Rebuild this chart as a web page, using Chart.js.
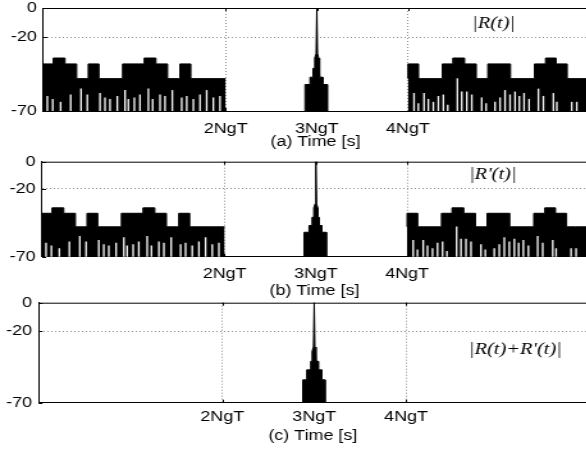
<!DOCTYPE html>
<html>
<head>
<meta charset="utf-8">
<script src="https://cdn.jsdelivr.net/npm/chart.js@4.4.1/dist/chart.umd.min.js"></script>
<style>
  html, body { margin: 0; padding: 0; background: #fff; width: 586px; height: 456px; overflow: hidden; }
  canvas { position: absolute; left: 0; transform-origin: 0 0; transform: scaleX(1.28); }
</style>
</head>
<body>
<canvas id="chartA"></canvas>
<canvas id="chartB"></canvas>
<canvas id="chartC"></canvas>
<script>
// time in units of NgT, magnitude in dB
const xTickVals = [2, 3, 4];
const xTickLabels = ["2NgT", "3NgT", "4NgT"];
const yTickVals = [-70, -20, 0];

// envelope of the signal before 2NgT and after 4NgT (same in (a) and (b))
const blockEdgesL = [0, 0.107, 0.236, 0.364, 0.491, 0.609, 0.868, 1.105, 1.234, 1.362, 1.497, 1.617, 1.855, 2.0];
const blockLevelsL = [-48, -38, -34, -38, -48, -38, -48, -38, -34, -38, -48, -38, -48, -48];
const blockEdgesR = [4.0, 4.117, 4.377, 4.493, 4.622, 4.75, 4.877, 5.126, 5.389, 5.51, 5.627, 5.748, 5.846, 5.97];
const blockLevelsR = [-48, -38, -48, -38, -34, -38, -48, -38, -48, -38, -34, -38, -48, -48];

// thin light dips inside the blocks: position and how high they reach
const dipXL = [0.042, 0.101, 0.188, 0.298, 0.412, 0.481, 0.620, 0.675, 0.730, 0.810, 0.895, 0.931, 0.997,
  1.059, 1.151, 1.198, 1.279, 1.334, 1.414, 1.517, 1.572, 1.645, 1.718, 1.791, 1.864, 1.937];
const dipTopL = [-60, -62, -64, -59, -55, -59, -58, -61, -62, -60, -56, -62, -61,
  -59, -55, -62, -59, -60, -56, -61, -60, -62, -59, -56, -61, -60];
const dipXR = [4.067, 4.114, 4.177, 4.224, 4.279, 4.334, 4.389, 4.437, 4.543, 4.591, 4.646, 4.701, 4.810, 4.858,
  4.956, 5.011, 5.066, 5.121, 5.176, 5.223, 5.275, 5.330, 5.432, 5.487, 5.597, 5.634, 5.798, 5.853];
const dipTopR = [-58, -65, -58, -62, -64, -60, -59, -66, -48, -57, -57, -59, -61, -65,
  -64, -61, -56, -59, -57, -60, -58, -62, -55, -60, -58, -64, -64, -64];

// correlation peak at 3NgT
const peakX = [2.870, 2.870, 2.925, 2.925, 2.958, 2.958, 2.977, 2.977, 2.992, 3.0, 3.008, 3.021, 3.021, 3.035, 3.035, 3.065, 3.065, 3.115, 3.115];
const peakY = [-70, -52, -52, -47, -47, -41, -41, -34, -31, 0, -31, -34, -41, -41, -47, -47, -52, -52, -70];
const peakCX = [2.875, 2.875, 2.919, 2.919, 2.962, 2.962, 2.977, 2.977, 2.992, 3.0, 3.008, 3.020, 3.020, 3.045, 3.045, 3.082, 3.082, 3.118, 3.118];
const peakCY = [-70, -54, -54, -47, -47, -41, -41, -34, -31, 0, -31, -34, -41, -41, -47, -47, -54, -54, -70];

const W = 462;        // logical canvas width, stretched by 1.28 in css
const X_MAX = 5.97;

const toXY = (xs, ys) => xs.map((x, i) => ({ x: x, y: ys[i] }));
const toDips = (xs, tops) => xs.map((x, i) => ({ x: x, y: [-70, tops[i]] }));

const fillLine = (data, stepped) => ({
  type: "line",
  data: data,
  stepped: stepped,
  fill: "start",
  backgroundColor: "#000",
  borderColor: "#000",
  borderWidth: 1,
  pointRadius: 0,
  order: 1,
});

const dipBars = (data) => ({
  type: "bar",
  data: data,
  backgroundColor: "#f4f4f4",
  borderWidth: 0,
  barThickness: 0.7,
  grouped: false,
  order: 0,
});

const framePlugin = {
  id: "frame",
  afterDraw(chart) {
    const { ctx, chartArea: a, scales } = chart;
    const x = scales.x, y = scales.y;
    ctx.save();
    ctx.strokeStyle = "#000";
    ctx.lineWidth = 1;
    ctx.beginPath();
    ctx.moveTo(a.left, a.top + 0.5);
    ctx.lineTo(a.right, a.top + 0.5);
    ctx.stroke();
    // little inward ticks, matlab style
    xTickVals.forEach((v) => {
      const px = Math.round(x.getPixelForValue(v)) + 0.5;
      ctx.beginPath();
      ctx.moveTo(px, a.top);
      ctx.lineTo(px, a.top + 3);
      ctx.stroke();
      ctx.beginPath();
      ctx.moveTo(px, a.bottom);
      ctx.lineTo(px, a.bottom - 3);
      ctx.stroke();
    });
    yTickVals.forEach((v) => {
      const py = Math.round(y.getPixelForValue(v)) + 0.5;
      ctx.beginPath();
      ctx.moveTo(a.left, py);
      ctx.lineTo(a.left + 3, py);
      ctx.stroke();
    });

    const lab = chart.options.plugins.frame;
    ctx.fillStyle = "#000";
    ctx.font = "italic 16px 'Liberation Serif', 'Times New Roman', serif";
    ctx.textAlign = "center";
    ctx.textBaseline = "middle";
    ctx.fillText(lab.text, x.getPixelForValue(lab.x), y.getPixelForValue(lab.y));
    ctx.restore();
  },
};

const noPad = (s) => { s.paddingTop = 0; s.paddingBottom = 0; s.paddingLeft = 0; s.paddingRight = 0; };

function makePanel(id, box, datasets, title, label) {
  const canvas = document.getElementById(id);
  canvas.width = W;
  canvas.height = box.height;
  canvas.style.width = W + "px";
  canvas.style.height = box.height + "px";
  canvas.style.top = box.top + "px";

  const font = { family: "'Liberation Sans', Arial, sans-serif", size: 14, lineHeight: 1 };

  return new Chart(canvas, {
    type: "line",
    data: { datasets: datasets },
    options: {
      responsive: false,
      animation: false,
      events: [],
      layout: { padding: { top: box.plotTop, right: W - box.right, left: 0, bottom: 0 } },
      plugins: {
        legend: { display: false },
        tooltip: { enabled: false },
        frame: label,
      },
      scales: {
        x: {
          type: "linear",
          min: 0,
          max: X_MAX,
          offset: false,
          afterBuildTicks: (s) => { s.ticks = xTickVals.map((v) => ({ value: v })); },
          afterFit: (s) => { s.height = box.height - box.plotBottom; noPad(s); },
          ticks: {
            color: "#000",
            font: font,
            padding: box.tickPad,
            maxRotation: 0,
            autoSkip: false,
            callback: (v) => xTickLabels[xTickVals.indexOf(v)],
          },
          grid: { color: "#8c8c8c", lineWidth: 1, drawTicks: false, offset: false },
          border: { display: true, color: "#000", width: 1, dash: [1, 2] },
          title: {
            display: true,
            text: title,
            color: "#000",
            font: { family: "'Liberation Sans', Arial, sans-serif", size: 14 },
            padding: { top: 0, bottom: box.titlePad },
          },
        },
        y: {
          type: "linear",
          min: -70,
          max: 0,
          afterBuildTicks: (s) => { s.ticks = yTickVals.map((v) => ({ value: v })); },
          afterFit: (s) => { s.width = box.left; noPad(s); },
          ticks: { color: "#000", font: font, padding: 5.2 },
          grid: {
            color: (c) => (c.tick && c.tick.value === -20 ? "#8c8c8c" : "rgba(0,0,0,0)"),
            lineWidth: 1,
            drawTicks: false,
          },
          border: { display: true, color: "#000", width: 1, dash: [1, 2] },
        },
      },
    },
    plugins: [framePlugin],
  });
}

const boxA = { top: 0, height: 156, plotTop: 8, plotBottom: 111, left: 33.98, right: 458.9, tickPad: 11, titlePad: 5 };
const boxB = { top: 154, height: 148, plotTop: 7.7, plotBottom: 102.7, left: 32.97, right: 458.4, tickPad: 10, titlePad: 2.1 };
const boxC = { top: 295, height: 161, plotTop: 7.7, plotBottom: 107.7, left: 30.16, right: 458.6, tickPad: 7, titlePad: 11.3 };

const blockSets = () => [
  dipBars(toDips(dipXL, dipTopL).concat(toDips(dipXR, dipTopR))),
  fillLine(toXY(blockEdgesL, blockLevelsL), "after"),
  fillLine(toXY(blockEdgesR, blockLevelsR), "after"),
  fillLine(toXY(peakX, peakY), false),
];

makePanel("chartA", boxA, blockSets(), "(a) Time [s]", { text: "|R(t)|", x: 4.94, y: -10.9 });
makePanel("chartB", boxB, blockSets(), "(b) Time [s]", { text: "|R'(t)|", x: 4.94, y: -9.8 });
makePanel("chartC", boxC, [fillLine(toXY(peakCX, peakCY), false)], "(c) Time [s]", { text: "|R(t)+R'(t)|", x: 5.19, y: -33.1 });
</script>
</body>
</html>
